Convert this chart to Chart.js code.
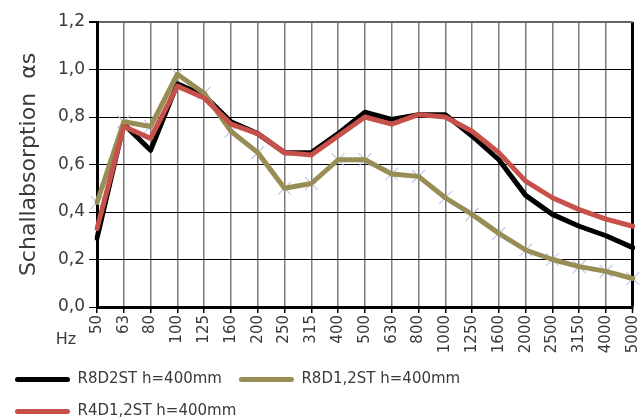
<!DOCTYPE html>
<html><head><meta charset="utf-8">
<script src="https://cdn.jsdelivr.net/npm/chart.js@4"></script>
<style>html,body{margin:0;padding:0;background:#fff}#wrap{width:643px;height:419px;position:relative}</style>
</head><body><div id="wrap"><canvas id="c"></canvas></div>
<script>
const frequencies = ['50','63','80','100','125','160','200','250','315','400','500','630','800','1000','1250','1600','2000','2500','3150','4000','5000'];
const r8d2st  = [0.29,0.77,0.66,0.94,0.89,0.78,0.73,0.65,0.65,0.73,0.82,0.79,0.81,0.81,0.72,0.62,0.47,0.39,0.34,0.30,0.25];
const r8d12st = [0.44,0.78,0.76,0.98,0.90,0.74,0.65,0.50,0.52,0.62,0.62,0.56,0.55,0.46,0.39,0.31,0.24,0.20,0.17,0.15,0.12];
const r4d12st = [0.33,0.76,0.71,0.93,0.88,0.77,0.73,0.65,0.64,0.72,0.80,0.77,0.81,0.80,0.74,0.65,0.53,0.46,0.41,0.37,0.34];
const seriesLabels = ['R8D2ST h=400mm','R8D1,2ST h=400mm','R4D1,2ST h=400mm'];
const seriesColors = ['#000000','#978d55','#c8504a'];
const yAxisTitle = 'Schallabsorption  \u03b1s';
const xUnit = 'Hz';

const FONT = '"DejaVu Sans"';
const TXT = '#3a3a3a';

const hzPlugin = {
  id: 'hz',
  afterDraw(chart) {
    const {ctx, chartArea} = chart;
    ctx.save();
    ctx.font = '16px ' + FONT;
    ctx.fillStyle = TXT;
    ctx.textAlign = 'center';
    ctx.textBaseline = 'middle';
    ctx.fillText(xUnit, chartArea.left - 31, chartArea.bottom + 33);
    ctx.restore();
  }
};

const lineDs = (i, data, order) => ({
  label: seriesLabels[i], data,
  borderColor: seriesColors[i], backgroundColor: seriesColors[i],
  borderWidth: 5, pointRadius: 0, tension: 0, order,
  borderJoinStyle: 'round', borderCapStyle: 'round'
});

new Chart(document.getElementById('c'), {
  type: 'line',
  data: {
    labels: frequencies,
    datasets: [
      lineDs(0, r8d2st, 3),
      lineDs(1, r8d12st, 2),
      lineDs(2, r4d12st, 1),
      { label: 'marks', data: r8d12st, showLine: false, order: 4,
        pointStyle: 'crossRot', pointRadius: 9, pointBorderWidth: 1.2,
        pointBorderColor: 'rgba(195,192,235,0.95)', pointBackgroundColor: 'rgba(0,0,0,0)' }
    ]
  },
  options: {
    responsive: true, maintainAspectRatio: false, animation: false,
    layout: { padding: { left: -2, right: 9, top: 22, bottom: -10 } },
    plugins: {
      tooltip: { enabled: false },
      legend: {
        position: 'bottom', align: 'start', maxWidth: 480,
        labels: {
          boxWidth: 55, boxHeight: 5, padding: 17,
          useBorderRadius: true, borderRadius: 2.5,
          font: { family: 'DejaVu Sans', size: 15 }, color: TXT,
          filter: (it) => it.datasetIndex < 3,
          sort: (a, b) => a.datasetIndex - b.datasetIndex,
          generateLabels: (chart) => Chart.defaults.plugins.legend.labels.generateLabels(chart).map(l => Object.assign(l, { lineWidth: 0 }))
        }
      }
    },
    scales: {
      x: {
        offset: false,
        grid: {
          color: (c) => c.index === frequencies.length - 1 ? '#000' : '#7a7a7a',
          lineWidth: (c) => c.index === frequencies.length - 1 ? 3 : 1.5,
          tickLength: 6, tickColor: '#000', tickWidth: 1.5
        },
        border: { color: '#000', width: 3 },
        ticks: { minRotation: 90, maxRotation: 90, autoSkip: false, padding: 2,
                 font: { family: 'DejaVu Sans', size: 15 }, color: TXT },
        afterFit: (s) => { s.height = 48; s.paddingRight = 0; s.paddingLeft = 0; }
      },
      y: {
        min: 0, max: 1.2,
        grid: {
          color: (c) => c.index === 6 ? '#666' : '#000',
          lineWidth: (c) => c.index === 6 ? 2 : 1,
          tickLength: 8, tickColor: '#000'
        },
        border: { color: '#000', width: 3 },
        ticks: { stepSize: 0.2, padding: 4, font: { family: 'DejaVu Sans', size: 17 }, color: TXT,
                 callback: (v) => v.toFixed(1).replace('.', ',') },
        title: { display: true, text: yAxisTitle, font: { family: 'DejaVu Sans', size: 22 }, color: TXT, padding: { top: 18, bottom: 0 } },
        afterFit: (s) => { s.width = 99; }
      }
    }
  },
  plugins: [hzPlugin]
});
</script>
</body></html>
